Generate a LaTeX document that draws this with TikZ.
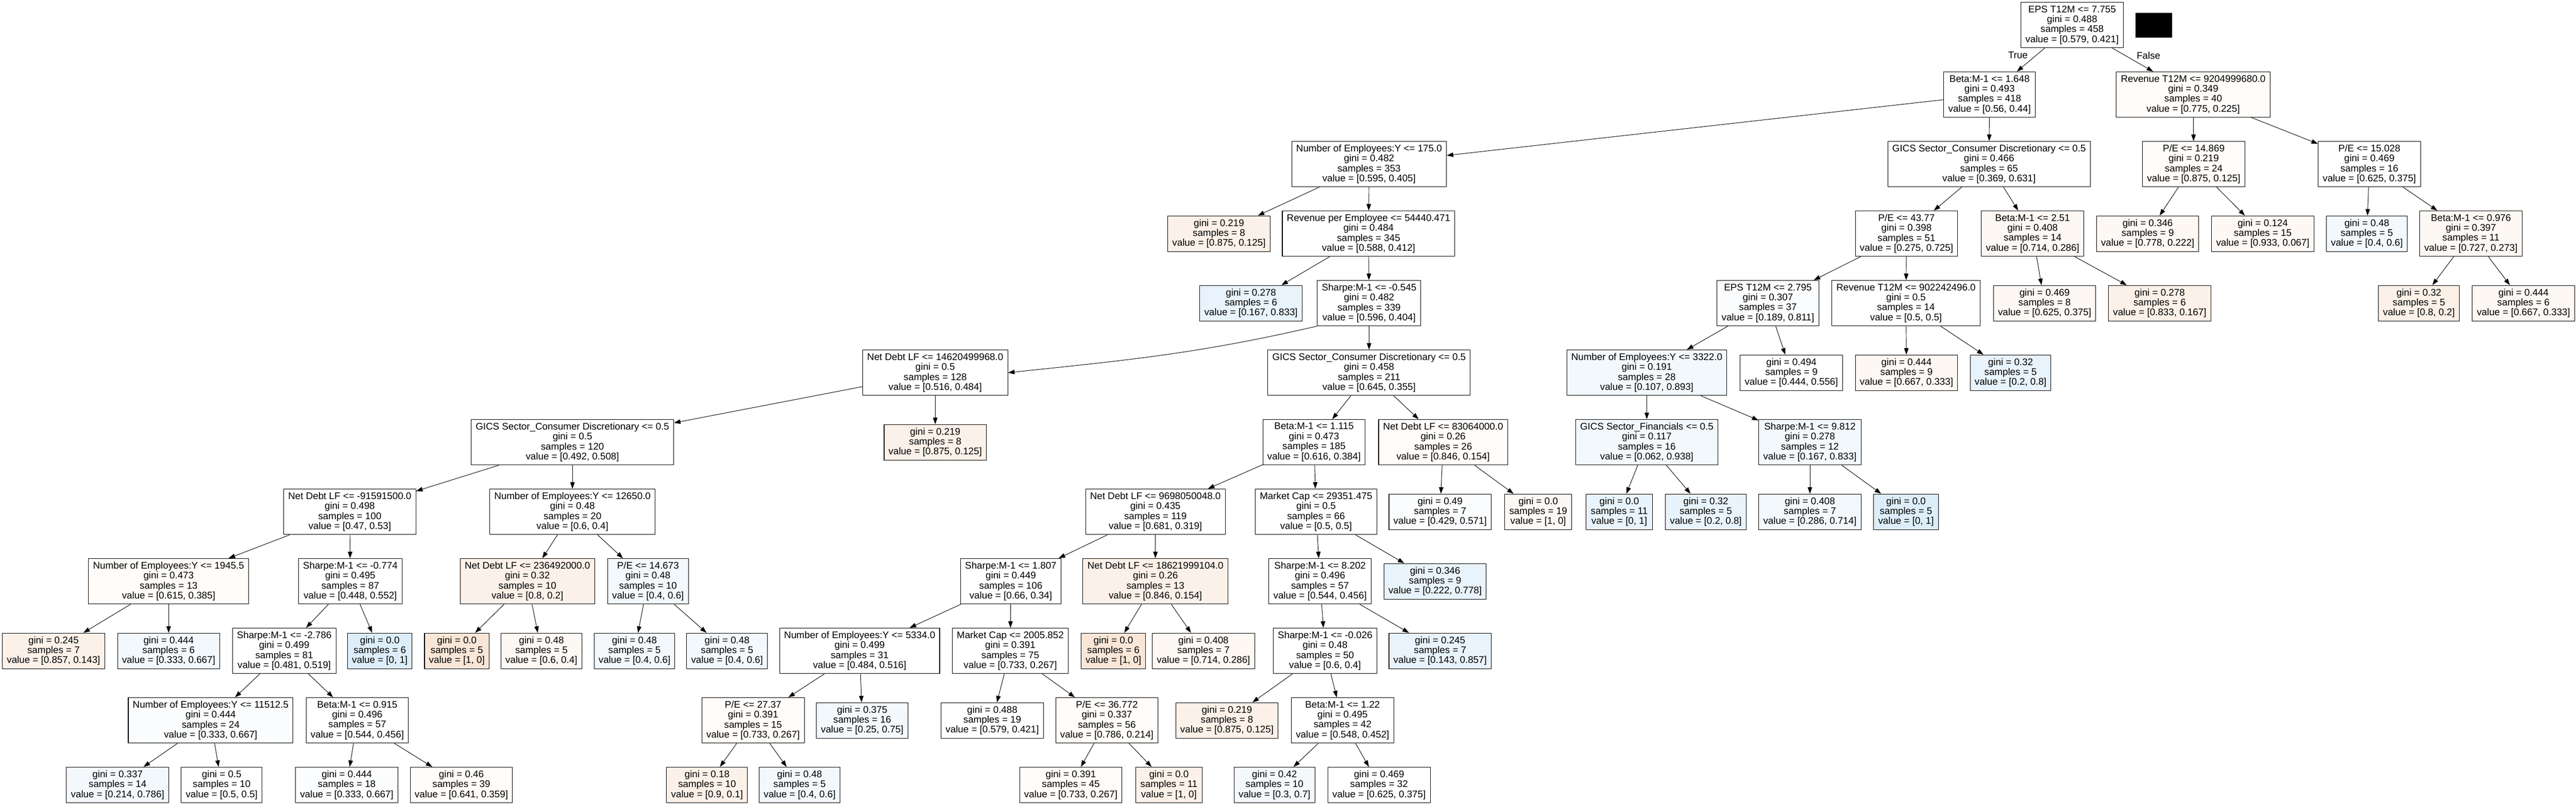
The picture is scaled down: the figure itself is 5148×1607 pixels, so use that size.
\documentclass[tikz,border=0pt]{standalone}
\usepackage{fontspec}
\setmainfont{Liberation Sans}
\usepackage{xcolor}
\usepackage{tikz}
\usetikzlibrary{arrows.meta}
\definecolor{ofaint}{HTML}{FFFCF9}
\definecolor{oone}{HTML}{FDF8F3}
\definecolor{otwo}{HTML}{FCF1E8}
\definecolor{othree}{HTML}{FAE6D7}
\definecolor{bfaint}{HTML}{FAFCFE}
\definecolor{bone}{HTML}{F3F8FD}
\definecolor{btwo}{HTML}{E8F3FC}
\definecolor{bthree}{HTML}{DDEEFA}
\tikzset{
  tnode/.style = {draw, line width=0.6pt, fill=white, align=center, inner xsep=1.8mm, inner ysep=0.4mm,
                  font=\fontsize{11pt}{4mm}\selectfont},
  split/.style = {tnode, minimum height=18.2mm},
  leaf/.style  = {tnode, minimum height=14.2mm},
  edge/.style  = {line width=0.55pt, -{Triangle[length=2.6mm, width=1.8mm]}},
  lbl/.style   = {inner sep=0pt, font=\fontsize{11pt}{4mm}\selectfont}
}

\begin{document}
\begin{tikzpicture}[x = 0.2mm, y = -0.2mm]
\fill[white] (0,0) rectangle (5148,1607);
\useasboundingbox (0,0) rectangle (5148,1607);
% rank 0
\node[split] (n0) at (4141,50) {EPS T12M <= 7.755\\gini = 0.488\\samples = 458\\value = [0.579, 0.421]};
\fill (4268,26) rectangle (4341,75);
% rank 1
\node[split] (n1) at (3976,189) {Beta:M-1 <= 1.648\\gini = 0.493\\samples = 418\\value = [0.56, 0.44]};
\node[split, fill=ofaint] (n2) at (4383,189) {Revenue T12M <= 9204999680.0\\gini = 0.349\\samples = 40\\value = [0.775, 0.225]};
% rank 2
\node[split] (n3) at (2736,328) {Number of Employees:Y <= 175.0\\gini = 0.482\\samples = 353\\value = [0.595, 0.405]};
\node[split] (n4) at (3975,328) {GICS Sector\_Consumer Discretionary <= 0.5\\gini = 0.466\\samples = 65\\value = [0.369, 0.631]};
\node[split, fill=ofaint] (n5) at (4384,328) {P/E <= 14.869\\gini = 0.219\\samples = 24\\value = [0.875, 0.125]};
\node[split] (n6) at (4735,328) {P/E <= 15.028\\gini = 0.469\\samples = 16\\value = [0.625, 0.375]};
% rank 3
\node[leaf, fill=otwo] (n7) at (2436,467) {gini = 0.219\\samples = 8\\value = [0.875, 0.125]};
\node[split] (n8) at (2735,467) {Revenue per Employee <= 54440.471\\gini = 0.484\\samples = 345\\value = [0.588, 0.412]};
\node[split] (n9) at (3810,467) {P/E <= 43.77\\gini = 0.398\\samples = 51\\value = [0.275, 0.725]};
\node[split, fill=oone] (n10) at (4062,467) {Beta:M-1 <= 2.51\\gini = 0.408\\samples = 14\\value = [0.714, 0.286]};
\node[leaf, fill=oone] (n11) at (4292,467) {gini = 0.346\\samples = 9\\value = [0.778, 0.222]};
\node[leaf, fill=oone] (n12) at (4522,467) {gini = 0.124\\samples = 15\\value = [0.933, 0.067]};
\node[leaf, fill=bone] (n13) at (4730,467) {gini = 0.48\\samples = 5\\value = [0.4, 0.6]};
\node[split, fill=oone] (n14) at (4938,467) {Beta:M-1 <= 0.976\\gini = 0.397\\samples = 11\\value = [0.727, 0.273]};
% rank 4
\node[leaf, fill=btwo] (n15) at (2500,606) {gini = 0.278\\samples = 6\\value = [0.167, 0.833]};
\node[split] (n16) at (2736,606) {Sharpe:M-1 <= -0.545\\gini = 0.482\\samples = 339\\value = [0.596, 0.404]};
\node[split, fill=bfaint] (n17) at (3533,606) {EPS T12M <= 2.795\\gini = 0.307\\samples = 37\\value = [0.189, 0.811]};
\node[split] (n18) at (3809,606) {Revenue T12M <= 902242496.0\\gini = 0.5\\samples = 14\\value = [0.5, 0.5]};
\node[leaf, fill=oone] (n19) at (4086,606) {gini = 0.469\\samples = 8\\value = [0.625, 0.375]};
\node[leaf, fill=otwo] (n20) at (4316,606) {gini = 0.278\\samples = 6\\value = [0.833, 0.167]};
\node[leaf, fill=otwo] (n21) at (4834,606) {gini = 0.32\\samples = 5\\value = [0.8, 0.2]};
\node[leaf, fill=oone] (n22) at (5043,606) {gini = 0.444\\samples = 6\\value = [0.667, 0.333]};
% rank 5
\node[split] (n23) at (1869,745) {Net Debt LF <= 14620499968.0\\gini = 0.5\\samples = 128\\value = [0.516, 0.484]};
\node[split] (n24) at (2736,745) {GICS Sector\_Consumer Discretionary <= 0.5\\gini = 0.458\\samples = 211\\value = [0.645, 0.355]};
\node[split, fill=bone] (n25) at (3291,745) {Number of Employees:Y <= 3322.0\\gini = 0.191\\samples = 28\\value = [0.107, 0.893]};
\node[leaf] (n26) at (3580,745) {gini = 0.494\\samples = 9\\value = [0.444, 0.556]};
\node[leaf, fill=oone] (n27) at (3810,745) {gini = 0.444\\samples = 9\\value = [0.667, 0.333]};
\node[leaf, fill=btwo] (n28) at (4018,745) {gini = 0.32\\samples = 5\\value = [0.2, 0.8]};
% rank 6
\node[split] (n29) at (1144,884) {GICS Sector\_Consumer Discretionary <= 0.5\\gini = 0.5\\samples = 120\\value = [0.492, 0.508]};
\node[leaf, fill=otwo] (n30) at (1869,884) {gini = 0.219\\samples = 8\\value = [0.875, 0.125]};
\node[split] (n31) at (2626,884) {Beta:M-1 <= 1.115\\gini = 0.473\\samples = 185\\value = [0.616, 0.384]};
\node[split, fill=ofaint] (n32) at (2884,884) {Net Debt LF <= 83064000.0\\gini = 0.26\\samples = 26\\value = [0.846, 0.154]};
\node[split, fill=bone] (n33) at (3291,884) {GICS Sector\_Financials <= 0.5\\gini = 0.117\\samples = 16\\value = [0.062, 0.938]};
\node[split, fill=bone] (n34) at (3617,884) {Sharpe:M-1 <= 9.812\\gini = 0.278\\samples = 12\\value = [0.167, 0.833]};
% rank 7
\node[split] (n35) at (699,1023) {Net Debt LF <= -91591500.0\\gini = 0.498\\samples = 100\\value = [0.47, 0.53]};
\node[split] (n36) at (1144,1023) {Number of Employees:Y <= 12650.0\\gini = 0.48\\samples = 20\\value = [0.6, 0.4]};
\node[split] (n37) at (2309,1023) {Net Debt LF <= 9698050048.0\\gini = 0.435\\samples = 119\\value = [0.681, 0.319]};
\node[split] (n38) at (2630,1023) {Market Cap <= 29351.475\\gini = 0.5\\samples = 66\\value = [0.5, 0.5]};
\node[leaf, fill=bfaint] (n39) at (2878,1023) {gini = 0.49\\samples = 7\\value = [0.429, 0.571]};
\node[leaf, fill=oone] (n40) at (3074,1023) {gini = 0.0\\samples = 19\\value = [1, 0]};
\node[leaf, fill=btwo] (n41) at (3236,1023) {gini = 0.0\\samples = 11\\value = [0, 1]};
\node[leaf, fill=btwo] (n42) at (3409,1023) {gini = 0.32\\samples = 5\\value = [0.2, 0.8]};
\node[leaf, fill=bone] (n43) at (3617,1023) {gini = 0.408\\samples = 7\\value = [0.286, 0.714]};
\node[leaf, fill=bthree] (n44) at (3809,1023) {gini = 0.0\\samples = 5\\value = [0, 1]};
% rank 8
\node[split, fill=ofaint] (n45) at (337,1162) {Number of Employees:Y <= 1945.5\\gini = 0.473\\samples = 13\\value = [0.615, 0.385]};
\node[split] (n46) at (700,1162) {Sharpe:M-1 <= -0.774\\gini = 0.495\\samples = 87\\value = [0.448, 0.552]};
\node[split, fill=otwo] (n47) at (1054,1162) {Net Debt LF <= 236492000.0\\gini = 0.32\\samples = 10\\value = [0.8, 0.2]};
\node[split, fill=bone] (n48) at (1295,1162) {P/E <= 14.673\\gini = 0.48\\samples = 10\\value = [0.4, 0.6]};
\node[split] (n49) at (2020,1162) {Sharpe:M-1 <= 1.807\\gini = 0.449\\samples = 106\\value = [0.66, 0.34]};
\node[split, fill=otwo] (n50) at (2309,1162) {Net Debt LF <= 18621999104.0\\gini = 0.26\\samples = 13\\value = [0.846, 0.154]};
\node[split] (n51) at (2638,1162) {Sharpe:M-1 <= 8.202\\gini = 0.496\\samples = 57\\value = [0.544, 0.456]};
\node[leaf, fill=btwo] (n52) at (2868,1162) {gini = 0.346\\samples = 9\\value = [0.222, 0.778]};
% rank 9
\node[leaf, fill=otwo] (n53) at (107,1301) {gini = 0.245\\samples = 7\\value = [0.857, 0.143]};
\node[leaf, fill=bone] (n54) at (337,1301) {gini = 0.444\\samples = 6\\value = [0.333, 0.667]};
\node[split] (n55) at (568,1301) {Sharpe:M-1 <= -2.786\\gini = 0.499\\samples = 81\\value = [0.481, 0.519]};
\node[leaf, fill=bthree] (n56) at (759,1301) {gini = 0.0\\samples = 6\\value = [0, 1]};
\node[leaf, fill=othree] (n57) at (913,1301) {gini = 0.0\\samples = 5\\value = [1, 0]};
\node[leaf, fill=oone] (n58) at (1082,1301) {gini = 0.48\\samples = 5\\value = [0.6, 0.4]};
\node[leaf, fill=bone] (n59) at (1268,1301) {gini = 0.48\\samples = 5\\value = [0.4, 0.6]};
\node[leaf, fill=bone] (n60) at (1453,1301) {gini = 0.48\\samples = 5\\value = [0.4, 0.6]};
\node[split] (n61) at (1718,1301) {Number of Employees:Y <= 5334.0\\gini = 0.499\\samples = 31\\value = [0.484, 0.516]};
\node[split] (n62) at (2019,1301) {Market Cap <= 2005.852\\gini = 0.391\\samples = 75\\value = [0.733, 0.267]};
\node[leaf, fill=othree] (n63) at (2225,1301) {gini = 0.0\\samples = 6\\value = [1, 0]};
\node[leaf, fill=oone] (n64) at (2405,1301) {gini = 0.408\\samples = 7\\value = [0.714, 0.286]};
\node[split] (n65) at (2648,1301) {Sharpe:M-1 <= -0.026\\gini = 0.48\\samples = 50\\value = [0.6, 0.4]};
\node[leaf, fill=btwo] (n66) at (2878,1301) {gini = 0.245\\samples = 7\\value = [0.143, 0.857]};
% rank 10
\node[split, fill=bfaint] (n67) at (421,1440) {Number of Employees:Y <= 11512.5\\gini = 0.444\\samples = 24\\value = [0.333, 0.667]};
\node[split] (n68) at (714,1440) {Beta:M-1 <= 0.915\\gini = 0.496\\samples = 57\\value = [0.544, 0.456]};
\node[split, fill=ofaint] (n69) at (1505,1440) {P/E <= 27.37\\gini = 0.391\\samples = 15\\value = [0.733, 0.267]};
\node[leaf, fill=bone] (n70) at (1723,1440) {gini = 0.375\\samples = 16\\value = [0.25, 0.75]};
\node[leaf] (n71) at (1983,1440) {gini = 0.488\\samples = 19\\value = [0.579, 0.421]};
\node[split, fill=ofaint] (n72) at (2212,1440) {P/E <= 36.772\\gini = 0.337\\samples = 56\\value = [0.786, 0.214]};
\node[leaf, fill=otwo] (n73) at (2452,1440) {gini = 0.219\\samples = 8\\value = [0.875, 0.125]};
\node[split] (n74) at (2683,1440) {Beta:M-1 <= 1.22\\gini = 0.495\\samples = 42\\value = [0.548, 0.452]};
% rank 11
\node[leaf, fill=bone] (n75) at (235,1569) {gini = 0.337\\samples = 14\\value = [0.214, 0.786]};
\node[leaf] (n76) at (443,1569) {gini = 0.5\\samples = 10\\value = [0.5, 0.5]};
\node[leaf, fill=bfaint] (n77) at (693,1569) {gini = 0.444\\samples = 18\\value = [0.333, 0.667]};
\node[leaf, fill=ofaint] (n78) at (922,1569) {gini = 0.46\\samples = 39\\value = [0.641, 0.359]};
\node[leaf, fill=otwo] (n79) at (1413,1569) {gini = 0.18\\samples = 10\\value = [0.9, 0.1]};
\node[leaf, fill=bone] (n80) at (1598,1569) {gini = 0.48\\samples = 5\\value = [0.4, 0.6]};
\node[leaf, fill=ofaint] (n81) at (2140,1569) {gini = 0.391\\samples = 45\\value = [0.733, 0.267]};
\node[leaf, fill=otwo] (n82) at (2336,1569) {gini = 0.0\\samples = 11\\value = [1, 0]};
\node[leaf, fill=bone] (n83) at (2547,1569) {gini = 0.42\\samples = 10\\value = [0.3, 0.7]};
\node[leaf] (n84) at (2756,1569) {gini = 0.469\\samples = 32\\value = [0.625, 0.375]};
% edges
\draw[edge] (n0) -- node[lbl, pos=0.3, left=3.4mm] {True} (n1);
\draw[edge] (n0) -- node[lbl, pos=0.31, right=4.6mm] {False} (n2);
\draw[edge] (n1) -- (n3);
\draw[edge] (n1) -- (n4);
\draw[edge] (n2) -- (n5);
\draw[edge] (n2) -- (n6);
\draw[edge] (n3) -- (n7);
\draw[edge] (n3) -- (n8);
\draw[edge] (n4) -- (n9);
\draw[edge] (n4) -- (n10);
\draw[edge] (n5) -- (n11);
\draw[edge] (n5) -- (n12);
\draw[edge] (n6) -- (n13);
\draw[edge] (n6) -- (n14);
\draw[edge] (n8) -- (n15);
\draw[edge] (n8) -- (n16);
\draw[edge] (n9) -- (n17);
\draw[edge] (n9) -- (n18);
\draw[edge] (n10) -- (n19);
\draw[edge] (n10) -- (n20);
\draw[edge] (n14) -- (n21);
\draw[edge] (n14) -- (n22);
\draw[edge] (n16.south west) to[out=193, in=6] (n23.east);
\draw[edge] (n16) -- (n24);
\draw[edge] (n17) -- (n25);
\draw[edge] (n17) -- (n26);
\draw[edge] (n18) -- (n27);
\draw[edge] (n18) -- (n28);
\draw[edge] (n23) -- (n29);
\draw[edge] (n23) -- (n30);
\draw[edge] (n24) -- (n31);
\draw[edge] (n24) -- (n32);
\draw[edge] (n25) -- (n33);
\draw[edge] (n25) -- (n34);
\draw[edge] (n29) -- (n35);
\draw[edge] (n29) -- (n36);
\draw[edge] (n31) -- (n37);
\draw[edge] (n31) -- (n38);
\draw[edge] (n32) -- (n39);
\draw[edge] (n32) -- (n40);
\draw[edge] (n33) -- (n41);
\draw[edge] (n33) -- (n42);
\draw[edge] (n34) -- (n43);
\draw[edge] (n34) -- (n44);
\draw[edge] (n35) -- (n45);
\draw[edge] (n35) -- (n46);
\draw[edge] (n36) -- (n47);
\draw[edge] (n36) -- (n48);
\draw[edge] (n37) -- (n49);
\draw[edge] (n37) -- (n50);
\draw[edge] (n38) -- (n51);
\draw[edge] (n38) -- (n52);
\draw[edge] (n45) -- (n53);
\draw[edge] (n45) -- (n54);
\draw[edge] (n46) -- (n55);
\draw[edge] (n46) -- (n56);
\draw[edge] (n47) -- (n57);
\draw[edge] (n47) -- (n58);
\draw[edge] (n48) -- (n59);
\draw[edge] (n48) -- (n60);
\draw[edge] (n49) -- (n61);
\draw[edge] (n49) -- (n62);
\draw[edge] (n50) -- (n63);
\draw[edge] (n50) -- (n64);
\draw[edge] (n51) -- (n65);
\draw[edge] (n51) -- (n66);
\draw[edge] (n55) -- (n67);
\draw[edge] (n55) -- (n68);
\draw[edge] (n61) -- (n69);
\draw[edge] (n61) -- (n70);
\draw[edge] (n62) -- (n71);
\draw[edge] (n62) -- (n72);
\draw[edge] (n65) -- (n73);
\draw[edge] (n65) -- (n74);
\draw[edge] (n67) -- (n75);
\draw[edge] (n67) -- (n76);
\draw[edge] (n68) -- (n77);
\draw[edge] (n68) -- (n78);
\draw[edge] (n69) -- (n79);
\draw[edge] (n69) -- (n80);
\draw[edge] (n72) -- (n81);
\draw[edge] (n72) -- (n82);
\draw[edge] (n74) -- (n83);
\draw[edge] (n74) -- (n84);
\end{tikzpicture}
\end{document}
